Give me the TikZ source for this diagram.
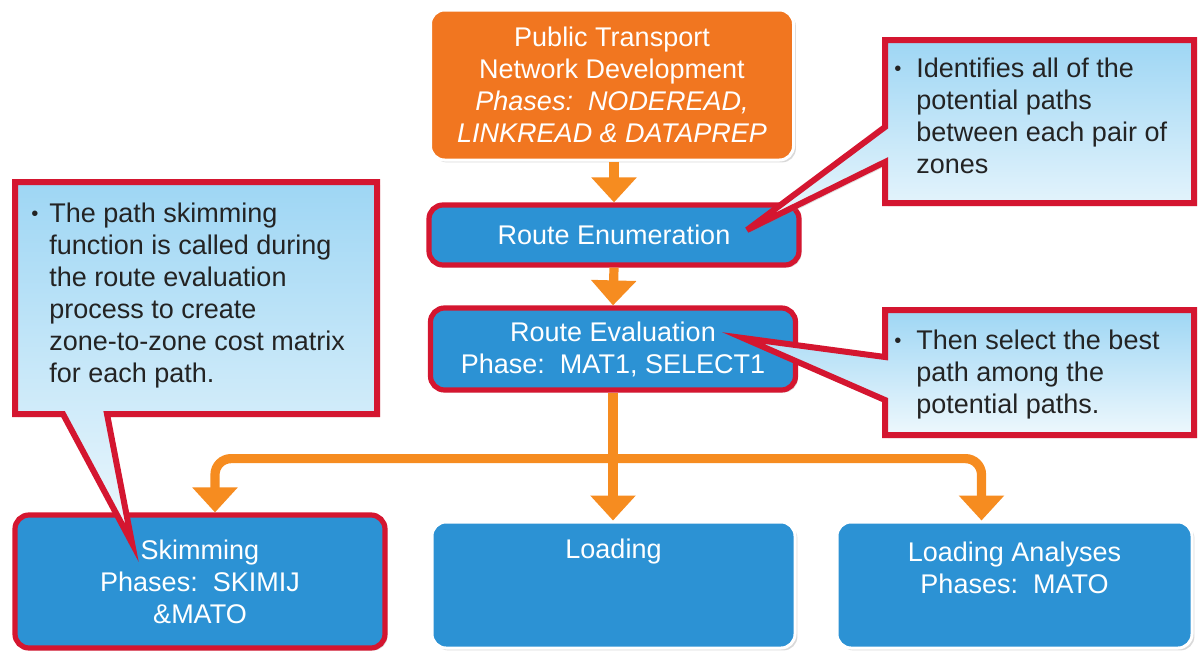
\documentclass[tikz,border=0pt]{standalone}
\usepackage{fontspec}
\setmainfont{Liberation Sans}
\usetikzlibrary{arrows.meta,shadows,calc}
\definecolor{orbox}{RGB}{241,118,32}
\definecolor{bluebox}{RGB}{44,146,212}
\definecolor{redc}{RGB}{212,22,48}
\definecolor{arrowor}{RGB}{246,140,32}
\definecolor{ctop}{RGB}{158,214,244}
\definecolor{cbot}{RGB}{238,248,253}
\definecolor{ctextc}{RGB}{35,35,35}
\newcommand{\mybul}{\raisebox{1pt}{\scalebox{0.75}{\textbullet}}}
\begin{document}
\begin{tikzpicture}[x=0.5pt,y=-0.5pt,
  boxfont/.style={font=\fontsize{13.5pt}{16pt}\selectfont},
  box/.style={boxfont, rounded corners=7pt, fill=bluebox, draw=white, line width=1.5pt,
    text=white, align=center, inner sep=0pt,
    drop shadow={opacity=0.3,shadow xshift=1.2pt,shadow yshift=-1.2pt}},
  orangebox/.style={box, fill=orbox},
  redbox/.style={box, draw=redc, line width=2.6pt},
  boxtext/.style={boxfont, text=white, align=center, inner sep=0pt},
  flowline/.style={draw=arrowor, line width=4.6pt},
  flow/.style={flowline, -{Triangle[width=22pt,length=12.5pt]}},
  callout/.style={draw=redc, line width=3pt, top color=ctop, bottom color=cbot, line join=miter,
    drop shadow={opacity=0.25,shadow xshift=1.5pt,shadow yshift=-1.5pt}},
  ctext/.style={boxfont, text=ctextc, inner sep=0pt, anchor=north west}
]
\useasboundingbox (0,0) rectangle (1198,653);

% main boxes
\node[orangebox, minimum width=181.5pt, minimum height=75pt] (top) at (612,85)
  {Public Transport\\Network Development\\{\itshape Phases:\ \ NODEREAD,}\\{\itshape LINKREAD \& DATAPREP}};
\node[redbox, minimum width=185pt, minimum height=30pt] (enum) at (614,235) {Route Enumeration};
\node[redbox, minimum width=182.5pt, minimum height=41pt] (eval) at (613,349)
  {Route Evaluation\\Phase:\ \ MAT1, SELECT1};
\node[redbox, minimum width=185pt, minimum height=66.5pt] (skim) at (200,581.5)
  {Skimming\\Phases:\ \ SKIMIJ\\\&MATO};
\node[box, minimum width=181.5pt, minimum height=63pt] (load) at (613.5,585) {};
\node[box, minimum width=177.5pt, minimum height=63pt] (loadA) at (1014.5,585) {};
\node[boxtext] (loadT) at ($(load.north)+(0,31)$) {Loading};
\node[boxtext] (loadAT) at ($(loadA.north)+(0,47)$) {Loading Analyses\\Phases:\ \ MATO};

% connectors
\coordinate (jn) at ($(eval.south)+(0,66)$);
\draw[flow] (top.south -| enum.north) -- (enum.north);
\draw[flow] (enum.south) -- (eval.north);
\draw[flow, rounded corners=8pt] (jn) -| ($(skim.north)+(15,0)$);
\draw[flow, rounded corners=8pt] (jn) -| ($(loadA.north)+(-33,0)$);
\draw[flowline] (eval.south) -- (jn);
\draw[flow] (jn) -- (load.north -| jn);

% callouts
\draw[callout] (15,182) -- (377,182) -- (377,414) -- (107,414) -- (132,543) -- (63,414) -- (15,414) -- cycle;
\draw[callout] (885,40) -- (1194,40) -- (1194,203) -- (885,203) -- (885,162) -- (747,230) -- (885,127) -- cycle;
\draw[callout] (885,310) -- (1194,310) -- (1194,435) -- (885,435) -- (885,400) -- (743,338) -- (885,357) -- cycle;

\node[ctext] (c1) at (31,200) {\begin{tabular}{@{}p{9pt}@{}l@{}}
\mybul & The path skimming\\
 & function is called during\\
 & the route evaluation\\
 & process to create\\
 & zone-to-zone cost matrix\\
 & for each path.
\end{tabular}};
\node[ctext] (c2) at (894,55) {\begin{tabular}{@{}p{11pt}@{}l@{}}
\mybul & Identifies all of the\\
 & potential paths\\
 & between each pair of\\
 & zones
\end{tabular}};
\node[ctext] (c3) at (894,327) {\begin{tabular}{@{}p{11pt}@{}l@{}}
\mybul & Then select the best\\
 & path among the\\
 & potential paths.
\end{tabular}};
\end{tikzpicture}
\end{document}
